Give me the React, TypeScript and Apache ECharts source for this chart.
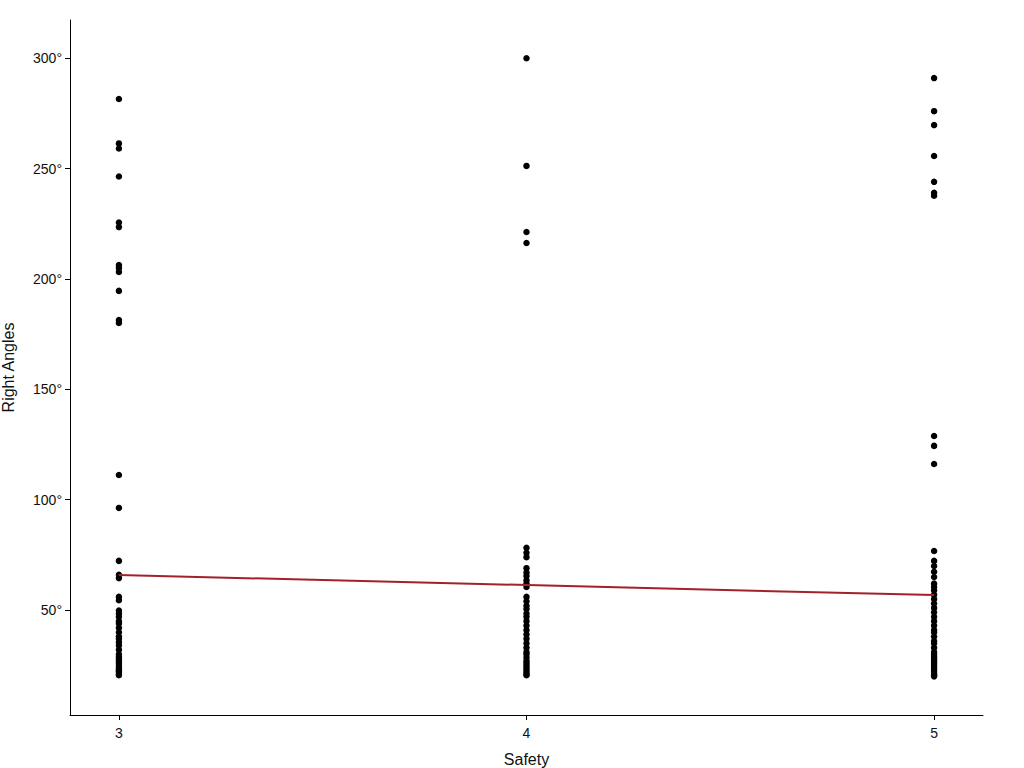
import React, { useEffect, useRef } from "react";
import * as echarts from "echarts";

const categories = [3, 4, 5];
const safety3 = [281.5, 261.4, 259.1, 246.4, 225.6, 223.5, 206.3, 205, 203.2, 194.6, 181.4, 180.1, 111.2, 96.3,
  72.3, 66, 64.5, 56, 54.5, 49.8, 48.5, 47, 45, 44, 42, 40, 38, 37, 35.5, 34, 32, 30, 29, 28, 27, 26, 25, 24, 23, 22.5, 22, 21, 20.5];
const safety4 = [300, 251.2, 221.3, 216.3,
  78.2, 76, 74, 69, 67, 65.5, 63.5, 62, 60.5, 56, 54, 52, 50.5, 48.5, 47, 45, 43, 41, 39, 37, 35, 33, 31, 30, 28.5, 27, 26, 25, 24, 23, 22, 21, 20.5];
const safety5 = [291, 276, 269.7, 255.7, 244, 239, 237.7, 128.9, 124.4, 116.2,
  76.8, 72.3, 70, 67.4, 65, 62, 60.5, 59, 57, 55, 53, 51, 49, 47, 45, 43, 41, 40, 38, 36, 35, 33, 31, 30, 29, 28, 27, 26, 25, 24, 23, 22, 21, 20.5, 20];
const fitLine = [[3, 65.9], [5, 56.8]];
const yTicks = [50, 100, 150, 200, 250, 300];

export default function App() {
  const ref = useRef<HTMLDivElement>(null);
  useEffect(() => {
    const chart = echarts.init(ref.current!, null, { renderer: "svg" });
    const groups = [safety3, safety4, safety5];
    const points: number[][] = [];
    groups.forEach((g, i) => g.forEach((v) => points.push([categories[i], v])));
    const font = "'Liberation Sans', Arial, sans-serif";
    chart.setOption({
      animation: false,
      grid: { left: 70, right: 41, top: 20, bottom: 53, containLabel: false, outerBoundsMode: "none" },
      xAxis: {
        type: "value",
        min: 2.88,
        max: 5.12,
        name: "Safety",
        nameLocation: "middle",
        nameGap: 36,
        nameTextStyle: { fontSize: 16, color: "#111", fontFamily: font },
        axisLine: { show: true, lineStyle: { color: "#000", width: 1 } },
        axisTick: { show: true, customValues: categories, length: 5, lineStyle: { color: "#000" } },
        axisLabel: { customValues: categories, fontSize: 14, color: "#111", fontFamily: font, margin: 11 },
        splitLine: { show: false },
      },
      yAxis: {
        type: "value",
        min: 2.5,
        max: 317.3,
        name: "Right Angles",
        nameLocation: "middle",
        nameGap: 54,
        nameTextStyle: { fontSize: 16, color: "#111", fontFamily: font },
        axisLine: { show: true, lineStyle: { color: "#000", width: 1 } },
        axisTick: { show: true, customValues: yTicks, length: 5, lineStyle: { color: "#000" } },
        axisLabel: { customValues: yTicks, fontSize: 14, color: "#111", fontFamily: font, margin: 8, formatter: (v: number) => v + "°" },
        splitLine: { show: false },
      },
      series: [
        {
          type: "scatter",
          data: points,
          symbolSize: 6.5,
          itemStyle: { color: "#000", opacity: 1 },
        },
        {
          type: "line",
          data: fitLine,
          symbol: "none",
          lineStyle: { color: "#a3212a", width: 2 },
        },
      ],
    });
    return () => chart.dispose();
  }, []);
  return <div ref={ref} style={{ position: "fixed", left: 0, top: 0, width: 1024, height: 768, background: "#fff" }} />;
}
